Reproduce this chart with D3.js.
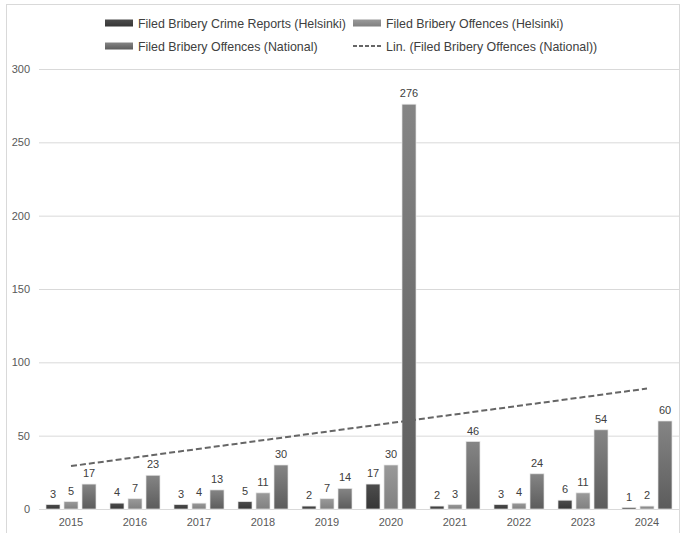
<!DOCTYPE html>
<html>
<head>
<meta charset="utf-8">
<script src="https://cdn.jsdelivr.net/npm/d3@7"></script>
<style>
  body { margin: 0; background: #fff; }
  text { font-family: "Liberation Sans", Arial, sans-serif; }
</style>
</head>
<body>
<div id="chart"></div>
<script>
const years = ["2015", "2016", "2017", "2018", "2019", "2020", "2021", "2022", "2023", "2024"];
const seriesNames = [
  "Filed Bribery Crime Reports (Helsinki)",
  "Filed Bribery Offences (Helsinki)",
  "Filed Bribery Offences (National)"
];
const crimeReportsHelsinki = [3, 4, 3, 5, 2, 17, 2, 3, 6, 1];
const offencesHelsinki = [5, 7, 4, 11, 7, 30, 3, 4, 11, 2];
const offencesNational = [17, 23, 13, 30, 14, 276, 46, 24, 54, 60];
const trendName = "Lin. (Filed Bribery Offences (National))";
const yTicks = [0, 50, 100, 150, 200, 250, 300];

const width = 681, height = 533;
const margin = { top: 69, right: 2, bottom: 24, left: 39 };

// gradient stops per series: [top, bottom]
const colors = [
  ["#4d4d4d", "#363636"],
  ["#9a9a9a", "#808080"],
  ["#858585", "#5c5c5c"]
];

const svg = d3.select("#chart").append("svg")
  .attr("width", width)
  .attr("height", height);

const defs = svg.append("defs");
colors.forEach((c, i) => {
  const grad = defs.append("linearGradient")
    .attr("id", "grad" + i)
    .attr("x1", "0").attr("y1", "0")
    .attr("x2", "0").attr("y2", "1");
  grad.append("stop").attr("offset", "0%").attr("stop-color", c[0]);
  grad.append("stop").attr("offset", "100%").attr("stop-color", c[1]);
});

// outer frame
svg.append("rect")
  .attr("x", 6.5).attr("y", 4.5)
  .attr("width", 673).attr("height", 530)
  .attr("fill", "none")
  .attr("stroke", "#d9d9d9");

const x0 = d3.scaleBand()
  .domain(years)
  .range([margin.left, width - margin.right]);

const x1 = d3.scaleBand()
  .domain(d3.range(3))
  .range([7, x0.bandwidth() - 7])
  .paddingInner(4 / 18);

const y = d3.scaleLinear()
  .domain([0, 300])
  .range([height - margin.bottom, margin.top]);

// grid
const gGrid = svg.append("g")
  .attr("transform", "translate(" + margin.left + ",0)")
  .call(d3.axisLeft(y).tickValues(yTicks).tickSize(-(width - margin.left - margin.right)).tickFormat(""));
gGrid.select(".domain").remove();
gGrid.selectAll(".tick line").attr("stroke", "#d9d9d9");

// y labels
svg.append("g")
  .selectAll("text")
  .data(yTicks)
  .join("text")
  .attr("x", 30)
  .attr("y", d => y(d) + 4)
  .attr("text-anchor", "end")
  .attr("font-size", 11)
  .attr("fill", "#595959")
  .text(d => d);

// x labels
svg.append("g")
  .selectAll("text")
  .data(years)
  .join("text")
  .attr("x", d => x0(d) + x0.bandwidth() / 2)
  .attr("y", height - margin.bottom + 17)
  .attr("text-anchor", "middle")
  .attr("font-size", 11)
  .attr("fill", "#595959")
  .text(d => d);

// bars
const data = years.map((yr, i) => ({
  year: yr,
  values: [crimeReportsHelsinki[i], offencesHelsinki[i], offencesNational[i]]
}));

const groups = svg.append("g")
  .selectAll("g")
  .data(data)
  .join("g")
  .attr("transform", d => "translate(" + x0(d.year) + ",0)");

groups.selectAll("rect")
  .data(d => d.values.map((v, s) => ({ v, s })))
  .join("rect")
  .attr("x", d => x1(d.s))
  .attr("y", d => y(d.v))
  .attr("width", x1.bandwidth())
  .attr("height", d => y(0) - y(d.v))
  .attr("fill", d => "url(#grad" + d.s + ")")
  .attr("stroke", "#e6e6e6")
  .attr("stroke-width", 0.7);

groups.selectAll("text")
  .data(d => d.values.map((v, s) => ({ v, s })))
  .join("text")
  .attr("x", d => x1(d.s) + x1.bandwidth() / 2)
  .attr("y", d => y(d.v) - 7)
  .attr("text-anchor", "middle")
  .attr("font-size", 11)
  .attr("fill", "#404040")
  .text(d => d.v);

// linear trend of national offences
const idx = d3.range(years.length);
const mx = d3.mean(idx), my = d3.mean(offencesNational);
const slope = d3.sum(idx, i => (i - mx) * (offencesNational[i] - my)) / d3.sum(idx, i => (i - mx) * (i - mx));
const intercept = my - slope * mx;

const trendLine = d3.line()
  .x(i => x0(years[i]) + x0.bandwidth() / 2)
  .y(i => y(intercept + slope * i));

svg.append("path")
  .datum([0, years.length - 1])
  .attr("d", trendLine)
  .attr("fill", "none")
  .attr("stroke", "#666")
  .attr("stroke-width", 2)
  .attr("stroke-dasharray", "6,3");

// legend
const legend = svg.append("g").attr("font-size", 12.4).attr("fill", "#404040");
const legendItems = [
  { name: seriesNames[0], x: 105, y: 23, kind: 0 },
  { name: seriesNames[1], x: 353, y: 23, kind: 1 },
  { name: seriesNames[2], x: 105, y: 46, kind: 2 },
  { name: trendName, x: 353, y: 46, kind: "line" }
];
legendItems.forEach(it => {
  if (it.kind === "line") {
    legend.append("line")
      .attr("x1", it.x).attr("x2", it.x + 29)
      .attr("y1", it.y).attr("y2", it.y)
      .attr("stroke", "#666")
      .attr("stroke-width", 2)
      .attr("stroke-dasharray", "4,2");
  } else {
    legend.append("rect")
      .attr("x", it.x).attr("y", it.y - 3.5)
      .attr("width", 28).attr("height", 7)
      .attr("fill", "url(#grad" + it.kind + ")");
  }
  legend.append("text")
    .attr("x", it.x + 33)
    .attr("y", it.y + 4.5)
    .attr("fill", "#404040")
    .text(it.name);
});
</script>
</body>
</html>
